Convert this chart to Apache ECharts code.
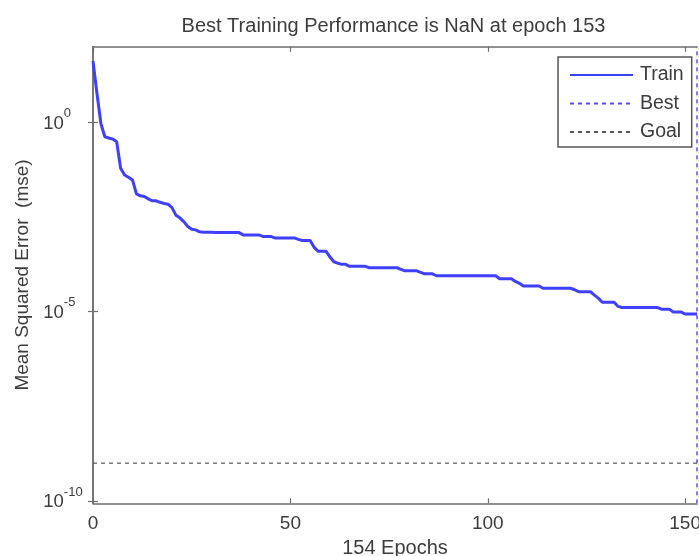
<!DOCTYPE html>
<html>
<head>
<meta charset="utf-8">
<script src="https://cdn.jsdelivr.net/npm/echarts@6/dist/echarts.min.js"></script>
<style>
html,body{margin:0;padding:0;background:#fff;}
#chart{width:699px;height:556px;}
</style>
</head>
<body>
<div id="chart"></div>
<script>
// ---- data ----
const trainPerf = [
  41.7, 5.89, 0.933, 0.417, 0.389, 0.363, 0.309, 0.0617, 0.0407, 0.0355,
  0.0302, 0.0129, 0.0115, 0.0110, 0.00955, 0.00851, 0.00851, 0.00776, 0.00724, 0.00692,
  0.00562, 0.00355, 0.00302, 0.00240, 0.00178, 0.00151, 0.00145, 0.00129, 0.00126, 0.00126,
  0.00126, 0.00123, 0.00123, 0.00123, 0.00123, 0.00123, 0.00123, 0.00123, 0.00107, 0.00107,
  0.00107, 0.00107, 0.00107, 9.77e-4, 9.77e-4, 9.77e-4, 8.91e-4, 8.91e-4, 8.91e-4, 8.91e-4,
  8.91e-4, 8.91e-4, 8.13e-4, 7.59e-4, 7.59e-4, 7.59e-4, 5.01e-4, 3.98e-4, 3.98e-4, 3.98e-4,
  2.82e-4, 2.09e-4, 1.91e-4, 1.78e-4, 1.78e-4, 1.58e-4, 1.58e-4, 1.58e-4, 1.58e-4, 1.58e-4,
  1.45e-4, 1.45e-4, 1.45e-4, 1.45e-4, 1.45e-4, 1.45e-4, 1.45e-4, 1.45e-4, 1.32e-4, 1.20e-4,
  1.20e-4, 1.20e-4, 1.20e-4, 1.10e-4, 1.00e-4, 1.00e-4, 1.00e-4, 8.91e-5, 8.91e-5, 8.91e-5,
  8.91e-5, 8.91e-5, 8.91e-5, 8.91e-5, 8.91e-5, 8.91e-5, 8.91e-5, 8.91e-5, 8.91e-5, 8.91e-5,
  8.91e-5, 8.91e-5, 8.91e-5, 7.41e-5, 7.41e-5, 7.41e-5, 7.41e-5, 6.31e-5, 5.62e-5, 4.79e-5,
  4.79e-5, 4.79e-5, 4.79e-5, 4.79e-5, 4.17e-5, 4.17e-5, 4.17e-5, 4.17e-5, 4.17e-5, 4.17e-5,
  4.17e-5, 4.17e-5, 3.80e-5, 3.39e-5, 3.39e-5, 3.39e-5, 3.39e-5, 2.75e-5, 2.29e-5, 1.78e-5,
  1.78e-5, 1.78e-5, 1.78e-5, 1.38e-5, 1.29e-5, 1.29e-5, 1.29e-5, 1.29e-5, 1.29e-5, 1.29e-5,
  1.29e-5, 1.29e-5, 1.29e-5, 1.29e-5, 1.17e-5, 1.17e-5, 1.17e-5, 9.77e-6, 9.77e-6, 9.77e-6,
  8.71e-6, 8.71e-6, 8.71e-6, 8.71e-6
];
const bestEpoch = 153;
const goalValue = 1e-9;
const xTickValues = [0, 50, 100, 150];
const yTickValues = [1e-10, 1e-5, 1];
const seriesNames = ['Train', 'Best', 'Goal'];
const titleText = 'Best Training Performance is NaN at epoch 153';
const xName = '154 Epochs';
const yName = 'Mean Squared Error  (mse)';

const xMin = 0, xMax = 153;
const yMin = 8.7e-11, yMax = 100;

const FONT = 'Liberation Sans';
const TXT = '#3c3c3c';
const AX = '#6e6e6e';

const chart = echarts.init(document.getElementById('chart'), null, {renderer: 'canvas'});

const trainData = trainPerf.map((v, i) => [i, v]);
const bestData = [[bestEpoch, yMin], [bestEpoch, yMax]];
const goalData = [[xMin, goalValue], [xMax, goalValue]];

const axisLineStyle = {show: true, lineStyle: {color: AX, width: 1.5}};
const tickStyle = {show: true, inside: true, length: 5, lineStyle: {color: AX, width: 1.2}};

const option = {
  backgroundColor: '#fff',
  animation: false,
  title: {
    text: titleText,
    left: 388.5,
    textAlign: 'center',
    top: 11,
    textStyle: {fontFamily: FONT, fontSize: 20, fontWeight: 'normal', color: TXT}
  },
  grid: {left: 93, right: 2, top: 46.7, bottom: 52.7, containLabel: false, outerBoundsMode: 'none'},
  legend: {
    orient: 'vertical',
    left: 558,
    top: 57,
    data: seriesNames,
    itemWidth: 63,
    itemHeight: 14,
    itemGap: 8.5,
    padding: [8, 8, 5, 11],
    borderColor: '#555',
    borderWidth: 1.5,
    backgroundColor: '#fff',
    itemStyle: {opacity: 0},
    textStyle: {fontFamily: FONT, fontSize: 19.5, color: TXT, padding: [0, 0, 0, 2]},
    selectedMode: false
  },
  xAxis: [
    {
      type: 'value', min: xMin, max: xMax, position: 'bottom',
      name: xName, nameLocation: 'middle', nameGap: 32,
      nameTextStyle: {fontFamily: FONT, fontSize: 20, color: TXT},
      axisLine: axisLineStyle,
      axisTick: Object.assign({customValues: xTickValues}, tickStyle),
      axisLabel: {customValues: xTickValues, fontFamily: FONT, fontSize: 19, color: TXT, margin: 11},
      splitLine: {show: false}
    },
    {
      type: 'value', min: xMin, max: xMax, position: 'top',
      axisLine: axisLineStyle,
      axisTick: Object.assign({customValues: xTickValues}, tickStyle),
      axisLabel: {show: false},
      splitLine: {show: false}
    }
  ],
  yAxis: [
    {
      type: 'log', logBase: 10, min: yMin, max: yMax, position: 'left',
      name: yName, nameLocation: 'middle', nameGap: 60, nameRotate: 90,
      nameTextStyle: {fontFamily: FONT, fontSize: 19, color: TXT},
      axisLine: axisLineStyle,
      axisTick: Object.assign({customValues: yTickValues}, tickStyle),
      axisLabel: {
        customValues: yTickValues,
        align: 'left',
        margin: 50,
        padding: [0, 0, 5, 0],
        formatter: function (v) {
          const e = Math.round(Math.log10(v));
          return '{sp| }{b|10}{s|' + e + '}';
        },
        rich: {
          sp: {fontSize: 1, lineHeight: 26, verticalAlign: 'top'},
          b: {fontFamily: FONT, fontSize: 18.5, lineHeight: 18, color: TXT, verticalAlign: 'bottom'},
          s: {fontFamily: FONT, fontSize: 13, lineHeight: 13, color: TXT, verticalAlign: 'top'}
        }
      },
      splitLine: {show: false}
    },
    {
      type: 'log', logBase: 10, min: yMin, max: yMax, position: 'right',
      axisLine: axisLineStyle,
      axisTick: Object.assign({customValues: yTickValues}, tickStyle),
      axisLabel: {show: false},
      splitLine: {show: false}
    }
  ],
  series: [
    {
      name: 'Train', type: 'line', xAxisIndex: 0, yAxisIndex: 0,
      data: trainData, showSymbol: false, symbol: 'none',
      lineStyle: {color: '#3f3fff', width: 3},
      itemStyle: {color: '#3f3fff'},
      z: 3
    },
    {
      name: 'Best', type: 'line', xAxisIndex: 0, yAxisIndex: 0,
      data: bestData, showSymbol: false, symbol: 'none',
      lineStyle: {color: '#5050ff', width: 1.5, type: [4, 4]},
      itemStyle: {color: '#5050ff'},
      z: 2
    },
    {
      name: 'Goal', type: 'line', xAxisIndex: 0, yAxisIndex: 0,
      data: goalData, showSymbol: false, symbol: 'none',
      lineStyle: {color: '#555555', width: 1.2, type: [4, 4]},
      itemStyle: {color: '#555555'},
      z: 2
    }
  ]
};
chart.setOption(option);
</script>
</body>
</html>
